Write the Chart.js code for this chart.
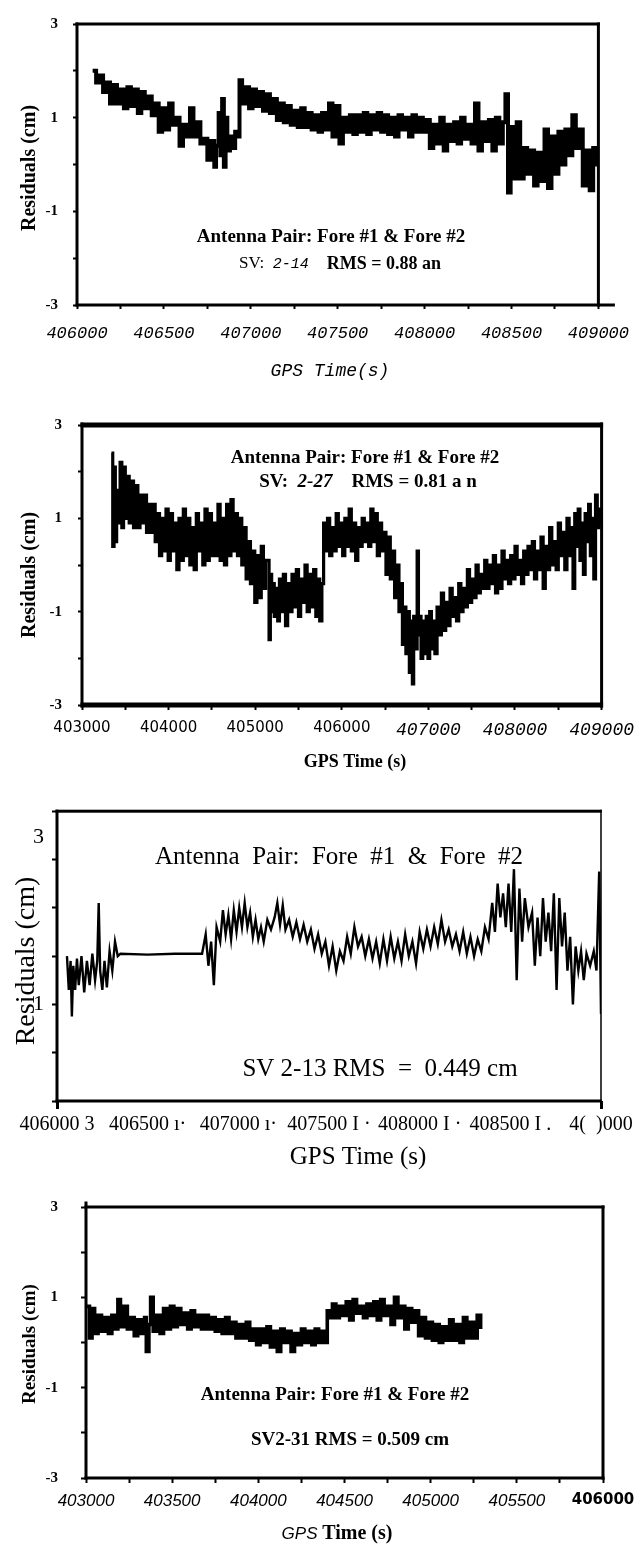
<!DOCTYPE html>
<html>
<head>
<meta charset="utf-8">
<script src="https://cdn.jsdelivr.net/npm/chart.js@4.4.0/dist/chart.umd.min.js"></script>
<style>
  body { margin: 0; background: #fff; width: 643px; height: 1544px; position: relative; overflow: hidden; }
  canvas { position: absolute; left: 0; }
</style>
</head>
<body>
<canvas id="c1" width="643" height="390" style="top:0px"></canvas>
<canvas id="c2" width="643" height="400" style="top:390px"></canvas>
<canvas id="c3" width="643" height="385" style="top:790px"></canvas>
<canvas id="c4" width="643" height="369" style="top:1175px"></canvas>
<script>
// ---- panel 1 : SV 2-14 ----
const p1Time = [
  406090,406110,406130,406150,406170,406190,406210,406230,406250,406270,
  406290,406310,406330,406350,406370,406390,406410,406430,406450,406470,
  406490,406510,406530,406550,406570,406590,406610,406630,406650,406670,
  406690,406710,406730,406750,406770,406790,406800,406815,406825,406835,
  406845,406855,406865,406880,406895,406910,406925,406935,406950,406970,
  406990,407010,407030,407050,407070,407090,407110,407130,407150,407170,
  407190,407210,407230,407250,407270,407290,407310,407330,407350,407370,
  407390,407410,407430,407450,407470,407490,407510,407530,407550,407570,
  407590,407610,407630,407650,407670,407690,407710,407730,407750,407770,
  407790,407810,407830,407850,407870,407890,407910,407930,407950,407970,
  407990,408010,408030,408050,408070,408090,408110,408130,408150,408170,
  408190,408210,408230,408250,408270,408290,408310,408330,408350,408370,
  408390,408410,408430,408450,408465,408480,408495,408510,408530,408550,
  408570,408590,408610,408630,408650,408670,408690,408710,408730,408750,
  408770,408790,408810,408830,408850,408870,408890,408910,408930,408950,
  408970,408990,409000
];
const p1Resid = [
  2.0,1.75,1.9,1.55,1.75,1.3,1.7,1.3,1.6,1.2,
  1.65,1.25,1.6,1.1,1.55,1.2,1.45,1.05,1.3,0.7,
  1.2,0.75,1.3,0.85,1.0,0.4,0.85,0.6,1.2,0.6,
  0.9,0.45,0.55,0.1,0.5,-0.05,0.4,1.1,0.2,1.4,
  -0.05,1.0,0.3,0.6,0.35,0.7,0.6,1.8,1.3,1.65,
  1.2,1.6,1.25,1.55,1.15,1.5,1.1,1.4,0.95,1.3,
  0.9,1.25,0.85,1.15,0.8,1.2,0.8,1.1,0.75,1.05,
  0.7,1.1,0.75,1.3,0.6,1.25,0.45,1.0,0.7,1.05,
  0.65,1.05,0.7,1.1,0.65,1.05,0.75,1.1,0.7,1.05,
  0.65,1.0,0.6,1.05,0.75,1.0,0.6,1.05,0.7,1.0,
  0.7,0.95,0.35,0.85,0.45,1.0,0.3,0.85,0.5,0.9,
  0.45,1.0,0.55,0.85,0.45,1.3,0.3,0.9,0.5,0.95,
  0.3,1.0,0.45,0.9,1.5,-0.6,0.8,-0.3,0.9,-0.3,
  0.35,-0.2,0.3,-0.45,0.25,-0.35,0.75,-0.5,0.6,-0.2,
  0.7,0.0,0.75,0.2,1.05,0.35,0.75,-0.45,0.3,-0.55,
  0.35,0.0,0.2
];
const p1XTicks = [406000,406250,406500,406750,407000,407250,407500,407750,408000,408250,408500,408750,409000];

// ---- panel 2 : SV 2-27 ----
const p2Time = [
  403340,403355,403370,403385,403400,403420,403440,403460,403480,403500,
  403520,403545,403570,403595,403620,403645,403670,403695,403720,403745,
  403770,403795,403820,403845,403870,403895,403920,403945,403970,403995,
  404020,404045,404070,404095,404120,404145,404170,404195,404220,404245,
  404270,404295,404320,404345,404370,404395,404420,404445,404470,404495,
  404520,404545,404570,404595,404620,404645,404670,404695,404720,404745,
  404770,404795,404820,404845,404870,404895,404920,404945,404970,404995,
  405020,405045,405070,405095,405120,405160,405175,405190,405205,405220,
  405240,405260,405280,405300,405325,405350,405375,405400,405425,405450,
  405475,405500,405525,405550,405575,405600,405625,405650,405675,405700,
  405720,405745,405770,405790,405810,405835,405860,405885,405910,405935,
  405960,405985,406010,406035,406060,406085,406110,406135,406160,406185,
  406210,406235,406260,406285,406310,406335,406360,406385,406410,406435,
  406460,406485,406510,406535,406560,406585,406610,406635,406660,406685,
  406700,406720,406740,406760,406780,406800,406815,406830,406845,406870,
  406885,406900,406915,406935,406955,406975,406995,407015,407035,407055,
  407075,407100,407125,407150,407175,407200,407225,407250,407275,407300,
  407325,407350,407375,407400,407425,407450,407475,407500,407525,407550,
  407575,407600,407625,407650,407675,407700,407725,407750,407775,407800,
  407825,407850,407875,407900,407925,407950,407975,408000,408025,408050,
  408075,408100,408125,408150,408175,408200,408225,408250,408275,408300,
  408325,408350,408375,408400,408425,408450,408475,408500,408525,408550,
  408575,408600,408625,408650,408670,408690,408710,408730,408750,408770,
  408790,408810,408830,408850,408870,408890,408910,408930,408950,408970,
  408990,409000
];
const p2Resid = [
  2.4,0.4,2.1,0.5,1.6,0.9,2.2,0.8,2.1,1.0,
  1.9,0.9,1.8,0.8,1.7,0.8,1.5,0.9,1.5,0.7,
  1.3,0.7,1.3,0.5,1.1,0.2,1.0,0.3,1.2,0.1,
  1.1,0.3,0.9,-0.1,1.0,0.1,1.2,0.2,1.0,0.0,
  0.8,-0.1,1.1,0.3,0.9,0.0,1.2,0.1,1.1,0.2,
  0.9,0.2,1.3,0.1,1.0,0.0,1.3,0.2,1.4,0.3,
  1.1,0.2,1.0,0.0,0.8,-0.3,0.5,-0.4,0.3,-0.8,
  0.2,-0.7,0.4,-0.5,0.1,-1.6,-0.2,-1.0,-0.4,-1.1,
  -0.5,-1.2,-0.3,-1.0,-0.2,-1.3,-0.4,-1.0,-0.2,-0.9,
  -0.1,-1.1,-0.3,-0.8,0.0,-1.0,-0.2,-0.9,-0.1,-1.1,
  -0.3,-1.2,-0.4,0.9,0.3,1.0,0.2,0.8,0.3,1.1,
  0.4,0.9,0.2,1.0,0.4,1.2,0.3,0.9,0.1,0.8,
  0.4,1.0,0.5,0.9,0.4,1.2,0.5,1.1,0.2,0.9,
  0.3,0.7,-0.2,0.6,-0.3,0.3,-0.7,0.0,-1.0,-0.4,
  -1.7,-0.9,-1.9,-1.0,-2.3,-1.2,-2.55,-1.1,-1.8,0.3,
  -1.5,-1.1,-2.0,-1.2,-1.9,-1.1,-2.0,-1.0,-1.8,-1.2,
  -1.9,-0.9,-1.5,-0.6,-1.4,-0.8,-1.3,-0.5,-1.1,-0.7,
  -1.2,-0.4,-1.0,-0.5,-0.9,-0.1,-0.8,-0.3,-0.7,0.0,
  -0.6,-0.2,-0.5,0.1,-0.5,0.0,-0.4,0.2,-0.6,0.0,
  -0.5,0.3,-0.3,0.1,-0.4,0.2,-0.3,0.4,-0.2,0.1,
  -0.4,0.3,-0.2,0.4,-0.1,0.5,-0.3,0.3,-0.1,0.6,
  -0.5,0.4,-0.1,0.8,0.0,0.5,-0.1,0.9,0.2,0.7,
  -0.1,1.0,0.2,0.8,-0.5,1.1,0.4,1.2,0.1,0.9,
  -0.2,1.1,0.5,1.3,0.2,1.0,-0.3,1.5,0.8,1.2,
  0.9,1.05
];
const p2XTicks = [403000,403500,404000,404500,405000,405500,406000,406500,407000,407500,408000,408500,409000];

// ---- panel 3 : SV 2-13 ----
const p3Time = [
  406055,406065,406075,406082,406090,406100,406110,406120,406135,406150,
  406165,406180,406195,406210,406222,406230,406238,406250,406262,406275,
  406290,406305,406320,406335,406350,406500,406650,406800,406820,406835,
  406850,406865,406880,406900,406915,406930,406945,406960,406975,406990,
  407005,407020,407035,407050,407065,407080,407095,407110,407125,407140,
  407160,407180,407200,407215,407230,407245,407260,407280,407300,407320,
  407340,407360,407380,407400,407420,407440,407460,407480,407500,407520,
  407540,407560,407580,407600,407620,407640,407660,407680,407700,407720,
  407740,407760,407780,407800,407820,407840,407860,407880,407900,407920,
  407940,407960,407980,408000,408020,408040,408060,408080,408100,408120,
  408140,408160,408180,408200,408220,408240,408260,408280,408300,408320,
  408340,408360,408380,408400,408415,408430,408445,408460,408475,408490,
  408505,408520,408535,408550,408565,408580,408600,408620,408635,408650,
  408665,408680,408695,408710,408725,408740,408755,408770,408785,408800,
  408815,408830,408845,408860,408875,408890,408905,408920,408940,408960,
  408975,408990,409000
];
const p3Resid = [
  0.0,-0.7,-0.1,-1.25,-0.2,-0.7,-0.05,-0.6,0.0,-0.75,
  -0.1,-0.6,0.05,-0.5,-0.1,1.1,-0.3,-0.7,-0.1,-0.65,
  0.1,-0.3,0.3,0.0,0.05,0.03,0.05,0.05,0.45,-0.2,
  0.3,-0.6,0.6,0.3,0.95,0.45,0.85,0.35,0.95,0.5,
  1.0,0.6,1.1,0.6,0.9,0.4,0.75,0.35,0.6,0.3,
  0.75,0.55,0.8,1.1,0.65,1.05,0.55,0.75,0.4,0.7,
  0.35,0.65,0.3,0.55,0.15,0.45,0.05,0.3,-0.2,0.2,
  -0.3,0.1,-0.1,0.4,0.05,0.6,0.2,0.4,0.0,0.35,
  -0.05,0.3,-0.15,0.35,-0.1,0.4,-0.05,0.3,-0.1,0.45,
  0.0,0.3,-0.15,0.5,0.15,0.55,0.2,0.6,0.25,0.75,
  0.3,0.55,0.2,0.45,0.1,0.5,0.05,0.4,0.0,0.35,
  0.1,0.6,0.35,1.1,0.5,1.5,0.8,1.3,0.6,1.5,
  0.5,1.8,-0.5,1.4,0.3,1.2,0.6,0.9,-0.2,0.8,
  0.0,1.2,0.3,0.9,0.1,1.3,-0.7,1.2,0.2,0.9,
  -0.3,0.4,-1.0,0.2,-0.3,0.1,-0.5,0.05,-0.2,0.1,
  -0.3,1.75,-1.2
];
const p3XTicks = [406000,406500,407000,407500,408000,408500,409000];
const p3XLabels = ['406000 3','406500 \u0131\u00b7','407000 \u0131\u00b7','407500 I \u00b7','408000 I \u00b7','408500 I .','4(  )000'];
const p3YTicks = [3, 2.47, 2, 1, 0, -1, -2, -3];
const p3YLabels = ['', '3', '', '', '', '1', '', ''];

// ---- panel 4 : SV 2-31 ----
const p4Time = [
  403005,403020,403035,403050,403070,403090,403110,403130,403150,403170,
  403185,403200,403220,403240,403260,403280,403300,403320,403340,403350,
  403365,403375,403390,403410,403430,403450,403470,403490,403510,403530,
  403550,403570,403590,403610,403630,403650,403670,403690,403710,403730,
  403750,403770,403790,403810,403830,403850,403870,403890,403910,403930,
  403950,403970,403990,404010,404030,404050,404070,404090,404110,404130,
  404150,404170,404190,404210,404230,404250,404270,404290,404310,404330,
  404350,404370,404385,404400,404415,404430,404450,404470,404490,404510,
  404530,404550,404570,404590,404610,404630,404650,404670,404690,404710,
  404730,404750,404770,404790,404810,404830,404850,404870,404890,404910,
  404930,404950,404970,404990,405010,405030,405050,405070,405090,405110,
  405130,405150,405170,405190,405210,405230,405250,405270,405290
];
const p4Resid = [
  0.8,0.1,0.75,0.2,0.6,0.25,0.55,0.2,0.6,0.3,
  0.95,0.35,0.8,0.3,0.55,0.15,0.5,0.2,0.55,-0.2,
  0.4,1.0,0.25,0.6,0.2,0.75,0.3,0.8,0.35,0.75,
  0.4,0.65,0.3,0.7,0.35,0.6,0.3,0.6,0.3,0.55,
  0.25,0.5,0.2,0.55,0.2,0.45,0.1,0.4,0.1,0.45,
  0.05,0.3,-0.05,0.3,0.0,0.35,-0.1,0.25,-0.2,0.3,
  0.0,0.25,-0.2,0.2,-0.05,0.3,0.0,0.25,-0.05,0.3,
  0.0,0.25,0.0,0.7,0.55,0.85,0.55,0.8,0.6,0.9,
  0.5,0.95,0.65,0.8,0.55,0.85,0.6,0.9,0.5,0.95,
  0.6,0.8,0.4,1.0,0.55,0.8,0.3,0.75,0.45,0.7,
  0.15,0.55,0.1,0.45,0.05,0.4,0.0,0.35,0.05,0.5,
  0.05,0.4,0.0,0.55,0.1,0.45,0.1,0.6,0.3
];
const p4XTicks = [403000,403250,403500,403750,404000,404250,404500,404750,405000,405250,405500,405750,406000];

const yTicksAll = [3, 2, 1, 0, -1, -2, -3];

const SERIF = '"Liberation Serif", "Times New Roman", serif';
const MONO = '"Liberation Mono", "Courier New", monospace';
const SANS = '"Liberation Sans", Arial, sans-serif';
const DEJAVU = '"DejaVu Sans", Verdana, sans-serif';

function fnt(family, size, weight, style) {
  return { family: family, size: size, weight: weight || 'normal', style: style || 'normal' };
}
function css(f) {
  return `${f.style} ${f.weight} ${f.size}px ${f.family}`;
}

// frame + free text drawn on top of the chart
const panelText = {
  id: 'panelText',
  afterDraw(chart, args, o) {
    const ctx = chart.ctx, a = chart.chartArea, f = o.frame;
    ctx.save();
    ctx.fillStyle = '#000';
    const w = a.right - a.left, h = a.bottom - a.top;
    ctx.fillRect(a.left - f.left / 2, a.top - f.top / 2, w + f.left / 2 + f.right / 2, f.top);
    ctx.fillRect(a.left - f.left / 2, a.bottom - f.bottom / 2, w + f.left / 2 + f.right / 2 + (f.extend || 0), f.bottom);
    ctx.fillRect(a.left - f.left / 2, a.top - f.top / 2 - (f.leftUp || 0), f.left, h + f.top / 2 + f.bottom / 2 + (f.leftUp || 0));
    ctx.fillRect(a.right - f.right / 2, a.top - f.top / 2, f.right, h + f.top / 2 + f.bottom / 2);
    o.texts.forEach(t => {
      ctx.save();
      ctx.translate(t.x, t.y);
      if (t.rotate) ctx.rotate(-Math.PI / 2);
      ctx.textBaseline = 'middle';
      ctx.textAlign = 'left';
      let tw = 0;
      t.runs.forEach(r => { ctx.font = css(r[1]); tw += ctx.measureText(r[0]).width; });
      let x = -tw / 2;
      t.runs.forEach(r => {
        ctx.font = css(r[1]);
        ctx.fillText(r[0], x, 0);
        x += ctx.measureText(r[0]).width;
      });
      ctx.restore();
    });
    ctx.restore();
  }
};

function makePanel(id, p) {
  const points = p.time.map((t, i) => ({ x: t, y: p.resid[i] }));
  return new Chart(document.getElementById(id), {
    type: 'line',
    data: {
      datasets: [{
        data: points,
        borderColor: '#000',
        borderWidth: p.lineWidth,
        borderJoinStyle: 'miter',
        pointRadius: 0,
        stepped: p.stepped,
        tension: 0
      }]
    },
    options: {
      responsive: false,
      animation: false,
      events: [],
      layout: { padding: { top: p.area.top, right: p.area.right, bottom: 0, left: 0 } },
      scales: {
        x: {
          type: 'linear',
          min: p.xMin,
          max: p.xMax,
          afterBuildTicks: s => { s.ticks = p.xTicks.map(v => ({ value: v })); },
          afterFit: s => { s.height = p.area.xHeight; },
          ticks: {
            autoSkip: false,
            maxRotation: 0,
            minRotation: 0,
            padding: p.xPad,
            color: '#000',
            font: p.xFont,
            callback: p.xLabel
          },
          grid: {
            drawOnChartArea: false,
            drawTicks: true,
            tickLength: p.xTickLen,
            tickWidth: p.xTickWidth,
            tickColor: p.xTickColor || '#000'
          },
          border: { display: false }
        },
        y: {
          type: 'linear',
          min: -3,
          max: 3,
          afterBuildTicks: s => { s.ticks = p.yTicks.map(v => ({ value: v })); },
          afterFit: s => { s.width = p.area.left; },
          ticks: {
            padding: p.yPad,
            color: '#000',
            font: p.yFont,
            callback: p.yLabel
          },
          grid: {
            drawOnChartArea: false,
            drawTicks: true,
            tickLength: p.yTickLen,
            tickWidth: 2,
            tickColor: p.yTickColor || '#000'
          },
          border: { display: false }
        }
      },
      plugins: {
        legend: { display: false },
        tooltip: { enabled: false },
        panelText: { frame: p.frame, texts: p.texts }
      }
    },
    plugins: [panelText]
  });
}

const oddLabel = v => (Math.abs(v) % 2 === 1 ? String(v) : '');

// panel 1
makePanel('c1', {
  time: p1Time, resid: p1Resid, lineWidth: 4, stepped: true,
  xMin: 406000, xMax: 409000, xTicks: p1XTicks,
  xLabel: v => (v % 500 === 0 ? String(v) : ''),
  xFont: fnt(MONO, 17, 'normal', 'italic'), xPad: 14, xTickLen: 4, xTickWidth: 2,
  yTicks: yTicksAll, yLabel: oddLabel, yFont: fnt(SERIF, 15, 'bold'), yPad: 15, yTickLen: 4,
  area: { top: 21, right: 40, left: 77, xHeight: 85 },
  frame: { top: 3, right: 3, bottom: 3, left: 3, extend: 15 },
  texts: [
    { x: 330, y: 371, runs: [['GPS Time(s)', fnt(MONO, 18, 'normal', 'italic')]] },
    { x: 30, y: 168, rotate: true, runs: [['Residuals (cm)', fnt(SERIF, 20, 'bold')]] },
    { x: 331, y: 237, runs: [['Antenna Pair: Fore #1 & Fore #2', fnt(SERIF, 19, 'bold')]] },
    { x: 340, y: 264, runs: [
      ['SV:  ', fnt(SERIF, 17)],
      ['2-14', fnt(MONO, 15, 'normal', 'italic')],
      ['    RMS = ', fnt(SERIF, 18, 'bold')],
      ['0.88 an', fnt(SERIF, 18, 'bold')]
    ] }
  ]
});

// panel 2
makePanel('c2', {
  time: p2Time, resid: p2Resid, lineWidth: 3.2, stepped: true,
  xMin: 403000, xMax: 409000, xTicks: p2XTicks,
  xLabel: v => (v % 1000 === 0 ? String(v) : ''),
  xFont: c => (c.tick && c.tick.value >= 407000 ? fnt(MONO, 18, 'normal', 'italic') : fnt(DEJAVU, 15)),
  xPad: 9, xTickLen: 5, xTickWidth: 2,
  yTicks: yTicksAll, yLabel: oddLabel, yFont: fnt(SERIF, 15, 'bold'), yPad: 16, yTickLen: 4,
  area: { top: 35, right: 33, left: 82, xHeight: 85 },
  frame: { top: 5, right: 3, bottom: 5, left: 3 },
  texts: [
    { x: 355, y: 372, runs: [['GPS Time (s)', fnt(SERIF, 18, 'bold')]] },
    { x: 30, y: 185, rotate: true, runs: [['Residuals (cm)', fnt(SERIF, 20, 'bold')]] },
    { x: 365, y: 68, runs: [['Antenna Pair: Fore #1 & Fore #2', fnt(SERIF, 19, 'bold')]] },
    { x: 368, y: 92, runs: [
      ['SV:  ', fnt(SERIF, 19, 'bold')],
      ['2-27', fnt(SERIF, 19, 'bold', 'italic')],
      ['    RMS = 0.81 a n', fnt(SERIF, 19, 'bold')]
    ] }
  ]
});

// panel 3
makePanel('c3', {
  time: p3Time, resid: p3Resid, lineWidth: 2.4, stepped: false,
  xMin: 406000, xMax: 409000, xTicks: p3XTicks,
  xLabel: (v, i) => p3XLabels[i],
  xFont: fnt(SERIF, 20), xPad: 4, xTickLen: 8, xTickWidth: 3,
  xTickColor: c => (c.tick && (c.tick.value === 406000 || c.tick.value === 409000) ? '#000' : 'rgba(0,0,0,0)'),
  yTicks: p3YTicks, yLabel: (v, i) => p3YLabels[i], yFont: fnt(SERIF, 22), yPad: 8, yTickLen: 5,
  yTickColor: c => (c.tick && c.tick.value === 2.47 ? 'rgba(0,0,0,0)' : '#000'),
  area: { top: 16, right: 42, left: 57, xHeight: 74 },
  frame: { top: 3, right: 1.5, bottom: 3, left: 3 },
  texts: [
    { x: 358, y: 367, runs: [['GPS Time (s)', fnt(SERIF, 25)]] },
    { x: 27, y: 171, rotate: true, runs: [['Residuals (cm)', fnt(SERIF, 28)]] },
    { x: 339, y: 67, runs: [['Antenna  Pair:  Fore  #1  &  Fore  #2', fnt(SERIF, 25)]] },
    { x: 380, y: 279, runs: [['SV 2-13 RMS  =  0.449 cm', fnt(SERIF, 25)]] }
  ]
});

// panel 4
makePanel('c4', {
  time: p4Time, resid: p4Resid, lineWidth: 3.6, stepped: true,
  xMin: 403000, xMax: 406000, xTicks: p4XTicks,
  xLabel: v => (v % 500 === 0 ? String(v) : ''),
  xFont: c => (c.tick && c.tick.value === 406000 ? fnt(DEJAVU, 15, 'bold') : fnt(SANS, 17, 'normal', 'italic')),
  xPad: 8, xTickLen: 5, xTickWidth: 2,
  yTicks: yTicksAll, yLabel: oddLabel, yFont: fnt(SERIF, 15, 'bold'), yPad: 23, yTickLen: 5,
  area: { top: 24, right: 40, left: 86, xHeight: 66 },
  frame: { top: 3, right: 3, bottom: 3, left: 3, leftUp: 4 },
  texts: [
    { x: 337, y: 359, runs: [['GPS ', fnt(SANS, 17, 'normal', 'italic')], ['Time (s)', fnt(SERIF, 20, 'bold')]] },
    { x: 30, y: 169, rotate: true, runs: [['Residuals (cm)', fnt(SERIF, 19, 'bold')]] },
    { x: 335, y: 220, runs: [['Antenna Pair: Fore #1 & Fore #2', fnt(SERIF, 19, 'bold')]] },
    { x: 350, y: 265, runs: [['SV2-31 RMS = 0.509 cm', fnt(SERIF, 19, 'bold')]] }
  ]
});
</script>
</body>
</html>
